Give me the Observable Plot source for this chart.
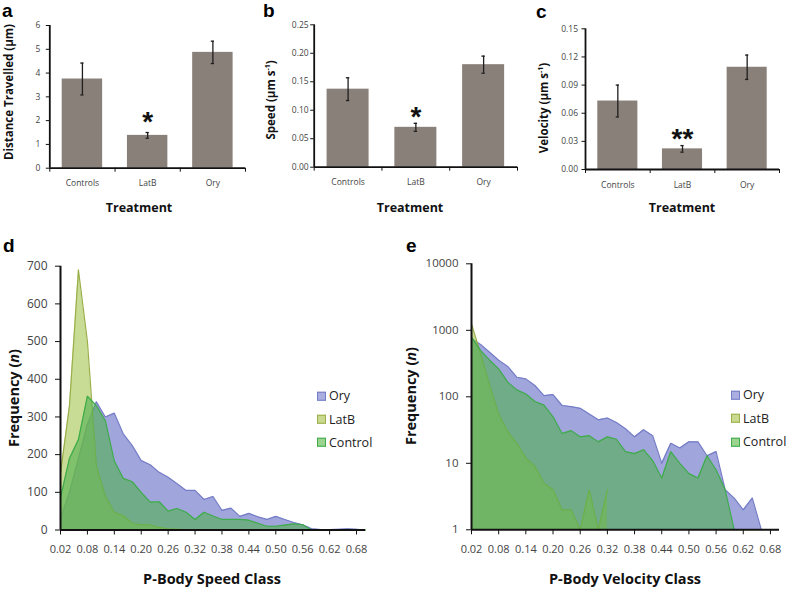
<!DOCTYPE html>
<html><head><meta charset="utf-8">
<script src="https://cdn.jsdelivr.net/npm/d3@7"></script>
<script src="https://cdn.jsdelivr.net/npm/@observablehq/plot@0.6"></script>
<style>
body{margin:0;background:#fff;}
#root{position:relative;width:787px;height:591px;overflow:hidden;font-family:"Open Sans",sans-serif;background:#fff;}
.panel{position:absolute;}
.lbl{position:absolute;white-space:nowrap;font-weight:700;color:#111;line-height:1;}
.rot{transform:translate(-50%,-50%) rotate(-90deg);}
.ctr{transform:translate(-50%,-50%);}
.letter{position:absolute;font-family:"Liberation Sans",Arial,sans-serif;font-weight:700;font-size:19px;color:#000;line-height:1.1;}
.leg{position:absolute;font-size:12.5px;color:#222;display:flex;align-items:center;transform:translateY(-50%);line-height:1;white-space:nowrap;}
.leg .box{display:inline-block;width:7px;height:7px;border:1.5px solid;margin-right:3px;}
</style></head><body><div id="root"></div>
<script>
// ---------- data: bar panels ----------
const treatments = ["Controls", "LatB", "Ory"];
const distanceMean = [3.75, 1.38, 4.87];
const distanceErr = [0.67, 0.12, 0.47];
const distanceSig = ["", "*", ""];
const speedMean = [0.137, 0.070, 0.180];
const speedErr = [0.020, 0.007, 0.015];
const speedSig = ["", "*", ""];
const velocityMean = [0.073, 0.022, 0.109];
const velocityErr = [0.017, 0.0035, 0.013];
const velocitySig = ["", "**", ""];
const distanceTicks = [0, 1, 2, 3, 4, 5, 6];
const speedTicks = [0, 0.05, 0.10, 0.15, 0.20, 0.25];
const velocityTicks = [0, 0.03, 0.06, 0.09, 0.12, 0.15];

// ---------- data: frequency panels ----------
const classes = [0.02,0.04,0.06,0.08,0.10,0.12,0.14,0.16,0.18,0.20,0.22,0.24,0.26,0.28,0.30,0.32,0.34,0.36,0.38,0.40,0.42,0.44,0.46,0.48,0.50,0.52,0.54,0.56,0.58,0.60,0.62,0.64,0.66,0.68,0.70];
const classTicks = [0.02,0.08,0.14,0.20,0.26,0.32,0.38,0.44,0.50,0.56,0.62,0.68];
const speedOry =     [30,100,190,280,340,300,310,255,224,184,173,153,140,123,105,105,81,89,52,58,36,44,35,28,36,28,20,14,3,1,1,2,3,2,0];
const speedLatB =    [150,330,690,500,170,90,47,38,18,14,13,7,3,2,1,1,0,0,0,0,0,0,0,0,0,0,0,0,0,0,0,0,0,0,0];
const speedControl = [85,190,240,355,330,290,183,137,128,100,74,75,50,57,47,28,47,37,28,28,28,26,18,10,10,13,16,14,0,0,0,0,0,0,0];
const velOry =       [750,614,468,354,286,197,186,148,104,108,74,71,67,55,45,48,41,33,25,32,26,10,20,17,21,21,13,15,4,3,2,3,1,0,0];
const velLatB =      [1250,450,150,55,30,20,12,9,5,4,2,2,1,4,1,4,0,0,0,0,0,0,0,0,0,0,0,0,0,0,0,0,0,0,0];
const velControl =   [790,500,355,263,166,127,110,85,75,50,28,31,25,26,21,25,23,15,14,16,11,6,15,10,7,6,13,8,4,1,0,0,0,0,0];
const freqTicks = [0, 100, 200, 300, 400, 500, 600, 700];
const logTicks = [1, 10, 100, 1000, 10000];
const seriesNames = ["Ory", "LatB", "Control"];

const seriesStyle = {
  Ory:     {fill: "#6169c5", stroke: "#747cc6", legFill: "#a9addf"},
  LatB:    {fill: "#a3c550", stroke: "#9aae48", legFill: "#c9d98f"},
  Control: {fill: "#4fb04f", stroke: "#3fab4b", legFill: "#9ad48f"}
};

const root = document.getElementById("root");
function place(el, left, top) {
  el.classList.add("panel");
  el.style.left = left + "px";
  el.style.top = top + "px";
  root.appendChild(el);
}
function html(cls, text, left, top, extra) {
  const d = document.createElement("div");
  d.className = cls;
  d.innerHTML = text;
  d.style.left = left + "px";
  d.style.top = top + "px";
  if (extra) Object.assign(d.style, extra);
  root.appendChild(d);
  return d;
}

function barPanel(o) {
  const data = treatments.map((t, i) => ({t, i, m: o.mean[i], e: o.err[i], s: o.sig[i]}));
  const caps = data.flatMap(d => [{i: d.i, y: d.m - d.e}, {i: d.i, y: d.m + d.e}]);
  const chart = Plot.plot({
    width: o.width, height: 225,
    marginLeft: o.ml, marginRight: o.mr, marginTop: o.mt, marginBottom: o.mb,
    x: {domain: [0, 3]},
    y: {domain: [0, o.ticks[o.ticks.length - 1]]},
    style: {fontFamily: "Open Sans", background: "transparent", overflow: "visible"},
    marks: [
      Plot.rect(data, {x1: d => d.i + 0.19, x2: d => d.i + 0.81, y1: () => 0, y2: "m", fill: "#8a807a"}),
      Plot.ruleX(data, {x: d => d.i + 0.5, y1: d => d.m - d.e, y2: d => d.m + d.e, stroke: "#1e1e1e", strokeWidth: 1.3}),
      Plot.ruleY(caps, {y: "y", x1: d => d.i + 0.475, x2: d => d.i + 0.525, stroke: "#1e1e1e", strokeWidth: 1.3}),
      Plot.text(data, {x: d => d.i + 0.5, y: d => d.m + d.e, text: "s", dy: o.starDy, fontSize: 28, fontWeight: 700, fontFamily: "Liberation Sans", fill: "#111"}),
      Plot.axisY(o.ticks, {tickSize: 3.5, tickPadding: o.tp, tickFormat: o.fmt, fontSize: 8.5, color: "#444", stroke: "#111", label: null}),
      Plot.axisX([0, 1, 2, 3], {tickSize: 4, tickFormat: () => "", stroke: "#111", label: null}),
      Plot.axisX([0.5, 1.5, 2.5], {tickSize: 0, tickPadding: 12, tickFormat: d => treatments[Math.floor(d)], fontSize: 8.5, color: "#444", label: null}),
      Plot.ruleX([0], {stroke: "#111", strokeWidth: 1.8}),
      Plot.ruleY([0], {stroke: "#111", strokeWidth: 1.8})
    ]
  });
  place(chart, o.left, 0);
}

barPanel({mean: distanceMean, err: distanceErr, sig: distanceSig, ticks: distanceTicks, fmt: d => d,
  left: 0, width: 262, ml: 49.3, mr: 17, mt: 25, mb: 57.3, tp: 6, starDy: -10});
barPanel({mean: speedMean, err: speedErr, sig: speedSig, ticks: speedTicks, fmt: d3.format(".2f"),
  left: 262, width: 262, ml: 51.7, mr: 7, mt: 24.3, mb: 58.3, tp: 2, starDy: -6});
barPanel({mean: velocityMean, err: velocityErr, sig: velocitySig, ticks: velocityTicks, fmt: d3.format(".2f"),
  left: 524, width: 263, ml: 61, mr: 8, mt: 28.3, mb: 56, tp: 4, starDy: -7});

function seriesData(values, log) {
  return classes.map((c, i) => ({c, v: values[i]})).filter(d => !log || d.v > 0);
}

function areaPanel(o) {
  const sets = {Ory: o.ory, LatB: o.latb, Control: o.control};
  const marks = [];
  for (const name of seriesNames) {
    const st = seriesStyle[name];
    const data = seriesData(sets[name], o.log);
    marks.push(Plot.areaY(data, {x: "c", y1: () => o.base, y2: "v", fill: st.fill, fillOpacity: 0.6}));
    marks.push(Plot.lineY(data, {x: "c", y: "v", stroke: st.stroke, strokeWidth: 1.2}));
  }
  marks.push(
    Plot.axisY(o.ticks, {tickSize: 5, tickPadding: 8, fontSize: o.yfs, color: "#444", stroke: "#111", tickFormat: d => String(d), label: null}),
    Plot.axisX(classTicks, {tickSize: 5, tickPadding: 10, fontSize: 11, color: "#444", stroke: "#111", tickFormat: d3.format(".2f"), label: null}),
    Plot.ruleX([0.02], {stroke: "#111", strokeWidth: 2}),
    Plot.ruleY([o.base], {stroke: "#111", strokeWidth: 2})
  );
  const chart = Plot.plot({
    width: o.width, height: 356,
    marginLeft: o.ml, marginRight: o.mr, marginTop: o.mt, marginBottom: o.mb,
    x: {domain: [0.02, 0.70]},
    y: o.log ? {type: "log", domain: [1, 10000]} : {domain: [0, 700]},
    style: {fontFamily: "Open Sans", background: "transparent", overflow: "visible"},
    marks
  });
  place(chart, o.left, 235);
}

areaPanel({ory: speedOry, latb: speedLatB, control: speedControl, log: false, base: 0, ticks: freqTicks,
  left: 0, width: 395, ml: 60, mr: 30, mt: 30.7, mb: 61.5, yfs: 12});
areaPanel({ory: velOry, latb: velLatB, control: velControl, log: true, base: 1, ticks: logTicks,
  left: 400, width: 387, ml: 71, mr: 8, mt: 28.3, mb: 61.7, yfs: 11.5});

// ---------- titles ----------
html("letter", "a", 2, 1);
html("letter", "b", 263, 1);
html("letter", "c", 536, 2);
html("letter", "d", 3, 236);
html("letter", "e", 406, 236);

html("lbl rot", "Distance Travelled (μm)", 9, 92, {fontSize: "11.5px"});
html("lbl rot", "Speed (μm s<sup style='font-size:7px'>-1</sup>)", 270, 100, {fontSize: "11.5px"});
html("lbl rot", "Velocity (μm s<sup style='font-size:7px'>-1</sup>)", 543, 108, {fontSize: "11.5px"});
html("lbl ctr", "Treatment", 139, 208, {fontSize: "12.5px"});
html("lbl ctr", "Treatment", 410, 208, {fontSize: "12.5px"});
html("lbl ctr", "Treatment", 682, 208, {fontSize: "12.5px"});

html("lbl rot", "Frequency (<i>n</i>)", 14, 398, {fontSize: "14.5px"});
html("lbl rot", "Frequency (<i>n</i>)", 411, 396, {fontSize: "14.5px"});
html("lbl ctr", "P-Body Speed Class", 212, 579, {fontSize: "14.5px"});
html("lbl ctr", "P-Body Velocity Class", 625, 579, {fontSize: "14.5px"});

// ---------- legends ----------
function legend(x, ys) {
  seriesNames.forEach((name, k) => {
    const st = seriesStyle[name];
    html("leg", `<span class="box" style="background:${st.legFill};border-color:${st.stroke}"></span>${name}`, x, ys[k]);
  });
}
legend(317, [396, 419.5, 442.7]);
legend(731, [395, 418.5, 442]);
</script></body></html>
